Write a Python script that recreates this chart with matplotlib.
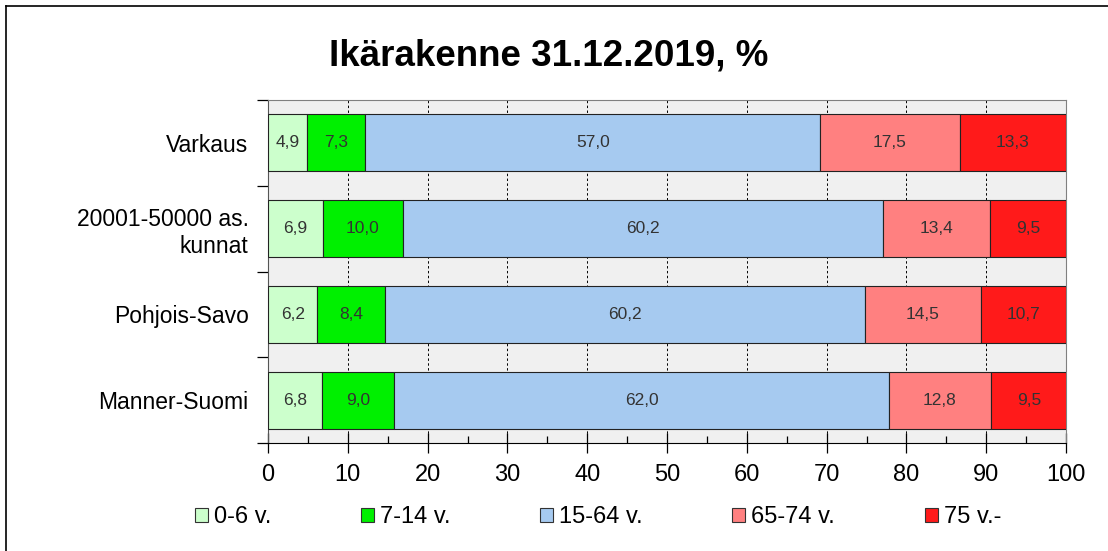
import matplotlib
matplotlib.use("Agg")
import matplotlib.pyplot as plt
from matplotlib.lines import Line2D
from matplotlib.patches import Patch
from matplotlib.ticker import MultipleLocator, FixedLocator
import numpy as np

plt.rcParams['font.family'] = ['Liberation Sans', 'DejaVu Sans']

categories = ["Varkaus", "20001-50000 as.\nkunnat", "Pohjois-Savo", "Manner-Suomi"]
series_names = ["0-6 v.", "7-14 v.", "15-64 v.", "65-74 v.", "75 v.-"]
values = {
    "0-6 v.":   [4.9, 6.9, 6.2, 6.8],
    "7-14 v.":  [7.3, 10.0, 8.4, 9.0],
    "15-64 v.": [57.0, 60.2, 60.2, 62.0],
    "65-74 v.": [17.5, 13.4, 14.5, 12.8],
    "75 v.-":   [13.3, 9.5, 10.7, 9.5],
}
colors = ["#ccffcc", "#00f000", "#a6caf0", "#ff8080", "#ff1a1a"]
title = "Ikärakenne 31.12.2019, %"

fig = plt.figure(figsize=(11.08, 5.51), dpi=100)
ax = fig.add_axes([268/1108, 1-443/551, (1066-268)/1108, (443-100)/551])
ax.set_facecolor("#f0f0f0")

y = np.arange(len(categories))
left = np.zeros(len(categories))
for name, col in zip(series_names, colors):
    v = np.array(values[name])
    bars = ax.barh(y, v, left=left, height=0.665, color=col, edgecolor="#222222",
                   linewidth=0.8, zorder=3)
    for b, val in zip(bars, v):
        ax.text(b.get_x() + b.get_width()/2, b.get_y() + b.get_height()/2,
                f"{val:.1f}".replace(".", ","), ha="center", va="center",
                fontsize=12.5, color="#333333", zorder=4)
    left += v

ax.set_xlim(0, 100)
ax.set_ylim(len(categories)-0.5, -0.5)
ax.xaxis.set_major_locator(MultipleLocator(10))
ax.xaxis.set_minor_locator(MultipleLocator(5))
ax.grid(axis="x", which="major", color="black", linestyle=(0, (2.5, 2.5)), linewidth=0.7, zorder=1)
ax.tick_params(axis="x", which="major", direction="inout", length=14, width=0.9,
               labelsize=17, pad=8, color="black")
ax.tick_params(axis="x", which="minor", direction="in", length=5, width=0.9, color="black")

ax.set_yticks(y)
ax.set_yticklabels(categories, fontsize=16.5)
ax.yaxis.set_minor_locator(FixedLocator(np.arange(-0.5, len(categories), 1.0)))
ax.tick_params(axis="y", which="major", length=0, pad=14)
ax.tick_params(axis="y", which="minor", direction="out", length=8, width=0.9, color="black")

for s in ["top", "right"]:
    ax.spines[s].set_color("#808080")
ax.spines["left"].set_color("#555555")
ax.spines["bottom"].set_color("black")

fig.text(549/1108, 1-56/551, title, ha="center", va="center", fontsize=26.5, fontweight="bold")

handles = [Patch(facecolor=c, edgecolor="#333333", linewidth=0.8) for c in colors]
fig.legend(handles, series_names, loc="center left", bbox_to_anchor=(195/1108, 1-517/551),
           ncol=5, frameon=False, fontsize=17, handlelength=0.55, handleheight=0.55,
           handletextpad=0.25, columnspacing=3.8, borderpad=0, borderaxespad=0)

# figure border (left and top edges visible)
fig.add_artist(Line2D([6/1108, 6/1108], [0, 1-6/551], transform=fig.transFigure, color="black", linewidth=1.2))
fig.add_artist(Line2D([6/1108, 1], [1-6/551, 1-6/551], transform=fig.transFigure, color="black", linewidth=1.2))

fig.savefig("out.png", dpi=100)
